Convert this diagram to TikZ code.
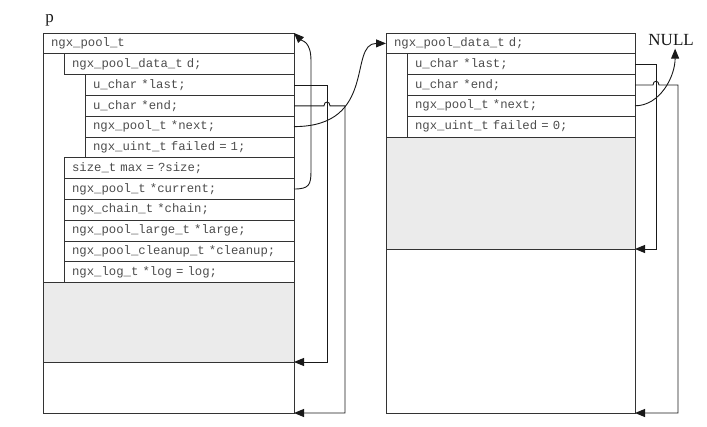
\documentclass[tikz,border=0pt]{standalone}
\usepackage{fontspec}
\setmainfont{Liberation Serif}
\setmonofont{Liberation Mono}
\usetikzlibrary{arrows.meta}

\begin{document}
\begin{tikzpicture}[x=1pt,y=-1pt,line width=0.9pt,color=black!80,
    field/.style={draw,anchor=north west,outer sep=0pt,inner xsep=8pt,inner ysep=0pt,
      minimum height=20.8pt,text width=#1,text=black!70,
      font=\ttfamily\fontsize{12.3}{14}\selectfont},
    block/.style={draw,anchor=north west,outer sep=0pt,inner sep=0pt},
    freemem/.style={block,fill=black!8},
    ptr/.style={draw=black!90,-{Triangle[length=10pt,width=8pt]}},
    label/.style={anchor=base west,inner sep=1pt,text=black!90,font=\fontsize{17}{20}\selectfont}]
  \useasboundingbox (0,0) rectangle (707,426);

  % first pool, p
  \node[label] (p) at (44,22) {p};
  \node[freemem,minimum width=251pt,minimum height=79.4pt] (lFree) at (43,282.6) {};
  \node[block,minimum width=251pt,minimum height=380pt] (lPool) at (43,33) {};
  \foreach \nm/\lvl/\txt [count=\i from 0] in {
      lHead/0/{ngx\_pool\_t},
      lData/1/{ngx\_pool\_data\_t d;},
      lLast/2/{u\_char *last;},
      lEnd/2/{u\_char *end;},
      lNext/2/{ngx\_pool\_t *next;},
      lFailed/2/{ngx\_uint\_t failed = 1;},
      lMax/1/{size\_t max = ?size;},
      lCurrent/1/{ngx\_pool\_t *current;},
      lChain/1/{ngx\_chain\_t *chain;},
      lLarge/1/{ngx\_pool\_large\_t *large;},
      lCleanup/1/{ngx\_pool\_cleanup\_t *cleanup;},
      lLog/1/{ngx\_log\_t *log = log;}} {
    \pgfmathsetmacro{\tw}{235-21*\lvl}
    \node[field=\tw pt] (\nm) at ({43+21*\lvl},{33+20.8*\i}) {\txt};
  }

  % second pool
  \node[freemem,minimum width=249pt,minimum height=112pt] (rFree) at (386,137) {};
  \node[block,minimum width=249pt,minimum height=380pt] (rPool) at (386,33) {};
  \foreach \nm/\lvl/\txt [count=\i from 0] in {
      rData/0/{ngx\_pool\_data\_t d;},
      rLast/1/{u\_char *last;},
      rEnd/1/{u\_char *end;},
      rNext/1/{ngx\_pool\_t *next;},
      rFailed/1/{ngx\_uint\_t failed = 0;}} {
    \pgfmathsetmacro{\tw}{233-21*\lvl}
    \node[field=\tw pt] (\nm) at ({386+21*\lvl},{33+20.8*\i}) {\txt};
  }
  \node[label] (null) at (647,45) {NULL};

  % pointers of the first pool
  \draw[ptr] (lLast.east) -- ++(33,0) |- (lFree.south east);
  \draw[ptr] (lEnd.east) -- ++(30,0) .. controls +(0,-5) and +(0,-5) .. ++(6,0)
    -- ++(15,0) |- (lPool.south east);
  \draw[ptr] (lNext.east) .. controls +(84,0) and +(-38,0) .. (rData.west);
  \draw[ptr] (lCurrent.east) .. controls +(15,0) and +(0,14) .. ++(17,-18)
    -- ++(0,-110) .. controls +(0,-20) and +(8,8) .. (lHead.north east);

  % pointers of the second pool
  \draw[ptr] (rLast.east) -- ++(21,0) |- (rFree.south east);
  \draw[ptr] (rEnd.east) -- ++(18,0) .. controls +(0,-5) and +(0,-5) .. ++(6,0)
    -- ++(19,0) |- (rPool.south east);
  \draw[ptr] (rNext.east) .. controls +(25,0) and +(0,28) .. ([xshift=4pt,yshift=-2pt]null.south);
\end{tikzpicture}
\end{document}
